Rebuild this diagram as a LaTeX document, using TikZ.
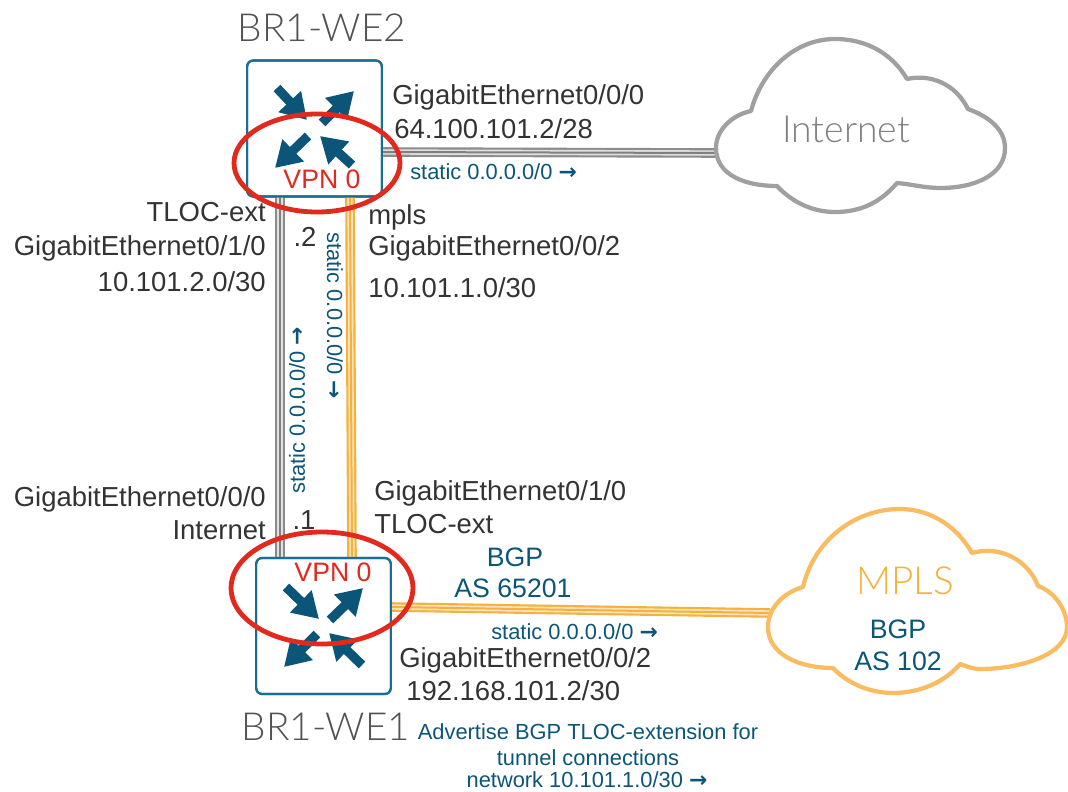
\documentclass[tikz,border=0pt]{standalone}
\usepackage{fontspec}
\setmainfont{Liberation Sans}
\newfontfamily\lightfont[UprightFont=* Light]{Lato}
\newfontfamily\arrowfont{DejaVu Sans}
\newcommand{\rarr}{{\arrowfont\bfseries →}}
\usetikzlibrary{arrows.meta}
\definecolor{ciscoblue}{HTML}{0B5678}
\definecolor{boxblue}{HTML}{1A6E92}
\definecolor{vpnred}{HTML}{E1291E}
\definecolor{linkorange}{HTML}{F5B13D}
\definecolor{cloudorange}{HTML}{F9BC62}
\definecolor{cloudgrey}{HTML}{A0A0A0}
\definecolor{txt}{HTML}{333333}
\tikzset{
  x=0.75pt,y=-0.75pt,
  lbl/.style={inner sep=0pt,text=txt,font=\fontsize{20.6}{24}\selectfont},
  small/.style={inner sep=0pt,text=ciscoblue,font=\fontsize{16.4}{19}\selectfont},
  bluelbl/.style={inner sep=0pt,text=ciscoblue,font=\fontsize{20}{24}\selectfont},
  vpn/.style={inner sep=0pt,text=vpnred,font=\fontsize{20}{24}\selectfont},
  title/.style={inner sep=0pt,text=txt!85,font=\lightfont\fontsize{29}{33}\selectfont},
  router/.style={draw=boxblue,line width=1.6pt,rounded corners=4.5pt,fill=white,inner sep=0pt,minimum width=101pt,minimum height=102pt},
  fat/.style={draw=ciscoblue,line width=7pt,-{Triangle[width=22pt,length=19pt]}},
  ring/.style={draw=vpnred,line width=3.6pt},
  greylink/.style={draw=black!45,line width=7.2pt,postaction={draw=black!12,line width=4pt},postaction={draw=black!50,line width=1.5pt}},
  orangelink/.style={draw=linkorange,line width=7.2pt,postaction={draw=linkorange!35,line width=4pt},postaction={draw=linkorange,line width=1.5pt}},
}
\begin{document}
\begin{tikzpicture}
\useasboundingbox (0,0) rectangle (1068,792);
% routers
\node[router] (br2) at (314.5,128.5) {};
\node[router] (br1) at (323.5,626) {};
% connector ends
\coordinate (g2) at (280,197);
\coordinate (g1) at (280,558);
\coordinate (o2) at (350,197);
\coordinate (o1) at (352,558);
\coordinate (ci) at (718,153);
\coordinate (cm) at (770,613);
\coordinate (i2) at (382,152);
\coordinate (m1) at (391,607);
\draw[greylink] (g2) -- (g1);
\draw[orangelink] (o2) -- (o1);
\draw[greylink] (i2) -- (ci);
\draw[orangelink] (m1) -- (cm);
% redraw router frames above links
\node[router,fill=none] at (br2) {};
\node[router,fill=none] at (br1) {};
% router arrows
\draw[fat] (277,88) -- (307,120);
\draw[fat] (322,123) -- (354,91);
\draw[fat] (308,136) -- (275,168);
\draw[fat] (352,165) -- (320,136);
\draw[fat] (286,587) -- (319,619);
\draw[fat] (330,620) -- (363,588);
\draw[fat] (317,634) -- (284,667);
\draw[fat] (362,665) -- (329,633);
% clouds
\draw[draw=cloudgrey,line width=3.2pt,fill=white,line join=round]
 (751,111) .. controls (762,70) and (795,39) .. (835,39)
 .. controls (868,39) and (893,55) .. (907,79)
 .. controls (930,74) and (955,83) .. (968,109)
 .. controls (990,117) and (1005,130) .. (1005,148)
 .. controls (1005,175) and (975,188) .. (940,188)
 .. controls (925,188) and (910,184) .. (897,183)
 .. controls (880,203) and (860,212) .. (835,212)
 .. controls (810,212) and (790,200) .. (777,186)
 .. controls (745,186) and (716,175) .. (716,148)
 .. controls (716,130) and (732,115) .. (751,111) -- cycle;
\draw[draw=cloudorange,line width=3.2pt,fill=white,line join=round]
 (803,587) .. controls (814,540) and (855,509) .. (900,509)
 .. controls (932,509) and (958,528) .. (972,553)
 .. controls (1000,545) and (1028,560) .. (1038,586)
 .. controls (1055,592) and (1067,610) .. (1067,627)
 .. controls (1067,655) and (1020,669) .. (980,669)
 .. controls (972,669) and (966,666) .. (960,664)
 .. controls (945,682) and (920,693) .. (893,693)
 .. controls (868,693) and (846,682) .. (833,668)
 .. controls (800,668) and (768,655) .. (768,627)
 .. controls (768,607) and (785,592) .. (803,587) -- cycle;
% rings
\draw[ring] (317,163) ellipse [x radius=83,y radius=49];
\draw[ring] (322,588) ellipse [x radius=91,y radius=56];
% titles
\node[title] (t2) at (322,28) {BR1-WE2};
\node[title] (t1) at (326,727) {BR1-WE1};
\node[vpn] (v2) at (322,179) {VPN 0};
\node[vpn] (v1) at (333,572) {VPN 0};
\node[inner sep=0pt,text=black!50,font=\lightfont\fontsize{28}{32}\selectfont] (ti) at (846,129) {Internet};
\node[inner sep=0pt,text=linkorange,font=\lightfont\fontsize{29}{33}\selectfont] (tm) at (905,581) {MPLS};
\node[bluelbl] (b1) at (898,629) {BGP};
\node[bluelbl] (b2) at (898,661) {AS 102};
% labels
\node[lbl,anchor=west] (a1) at (392,97) {GigabitEthernet0/0/0};
\node[lbl,anchor=west] (a2) at (394,129) {64.100.101.2/28};
\node[small,anchor=west] (s1) at (410,172) {static 0.0.0.0/0 \rarr};
\node[lbl,anchor=east] (a3) at (266,212) {TLOC-ext};
\node[lbl,anchor=east] (a4) at (266,248) {GigabitEthernet0/1/0};
\node[lbl,anchor=east] (a5) at (266,282) {10.101.2.0/30};
\node[lbl] (a6) at (305,237) {.2};
\node[lbl,anchor=west] (a7) at (368,217) {mpls};
\node[lbl,anchor=west] (a8) at (368,248) {GigabitEthernet0/0/2};
\node[lbl,anchor=west] (a9) at (368,288) {10.101.1.0/30};
\node[lbl,anchor=west] (a10) at (374,493) {GigabitEthernet0/1/0};
\node[lbl,anchor=west] (a11) at (374,524) {TLOC-ext};
\node[lbl,anchor=east] (a12) at (266,499) {GigabitEthernet0/0/0};
\node[lbl,anchor=east] (a13) at (266,530) {Internet};
\node[lbl] (a14) at (304,520) {.1};
\node[bluelbl] (b3) at (515,557) {BGP};
\node[bluelbl] (b4) at (513,588) {AS 65201};
\node[small,anchor=west] (s2) at (491,632) {static 0.0.0.0/0 \rarr};
\node[lbl,anchor=west] (a15) at (399,660) {GigabitEthernet0/0/2};
\node[lbl,anchor=west] (a16) at (406,691) {192.168.101.2/30};
\node[small,rotate=90] (s3) at (297,410) {static 0.0.0.0/0 \rarr};
\node[small,rotate=-90] (s4) at (335,316) {static 0.0.0.0/0 \rarr};
\node[small] (n1) at (588,732) {Advertise BGP TLOC-extension for};
\node[small] (n2) at (588,758) {tunnel connections};
\node[small] (n3) at (587,780) {network 10.101.1.0/30 \rarr};
\end{tikzpicture}
\end{document}
